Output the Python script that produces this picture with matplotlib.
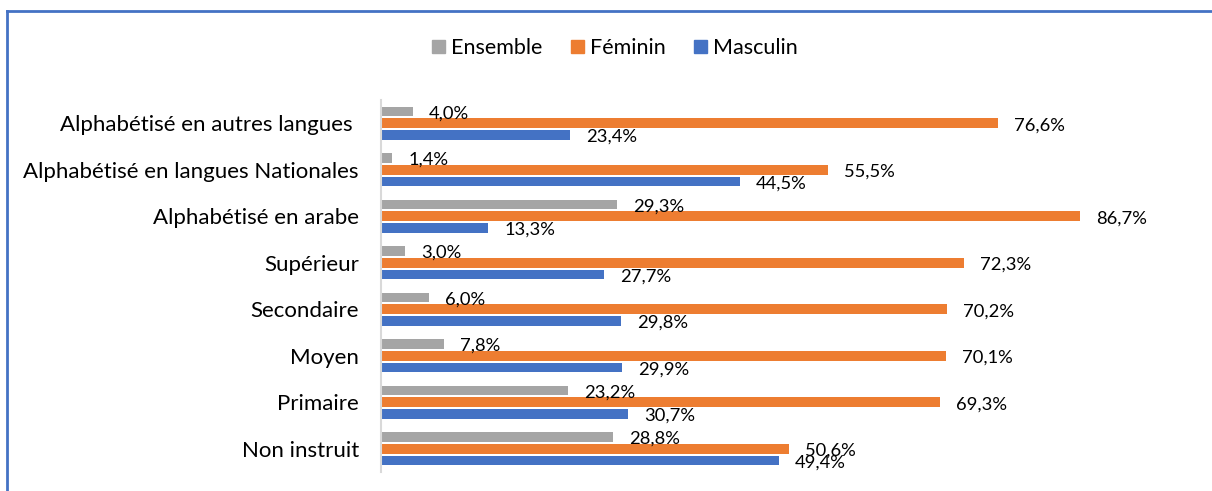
import matplotlib.pyplot as plt
from matplotlib.lines import Line2D
import numpy as np

categories = ["Non instruit", "Primaire", "Moyen", "Secondaire", "Supérieur",
              "Alphabétisé en arabe", "Alphabétisé en langues Nationales",
              "Alphabétisé en autres langues "]
ensemble = [28.8, 23.2, 7.8, 6.0, 3.0, 29.3, 1.4, 4.0]
feminin = [50.6, 69.3, 70.1, 70.2, 72.3, 86.7, 55.5, 76.6]
masculin = [49.4, 30.7, 29.9, 29.8, 27.7, 13.3, 44.5, 23.4]
series_names = ["Ensemble", "Féminin", "Masculin"]
colors = ["#A5A5A5", "#ED7D31", "#4472C4"]

plt.rcParams['font.family'] = ['Lato', 'DejaVu Sans']

W, H = 1212, 491
fig = plt.figure(figsize=(W / 100, H / 100), dpi=100)
ax = fig.add_axes([381 / W, 1 - 472 / H, (1187 - 381) / W, (472 - 100) / H])

y = np.arange(len(categories))
step = 0.255
h = 0.21
offsets = [step, 0, -step]
for vals, name, col, off in zip([ensemble, feminin, masculin], series_names, colors, offsets):
    bars = ax.barh(y + off, vals, height=h, color=col, label=name)
    for b, v in zip(bars, vals):
        ax.annotate(f"{v:.1f}%".replace(".", ","),
                    (b.get_width(), b.get_y() + b.get_height() / 2),
                    xytext=(16, -2), textcoords="offset pixels",
                    ha="left", va="center", fontsize=13.2, color="#000000")

ax.set_xlim(0, 100)
ax.set_ylim(-0.5, len(categories) - 0.5)
ax.set_yticks(y)
ax.set_yticklabels(categories, fontsize=16)
ax.tick_params(axis="y", length=0, pad=16)
ax.set_xticks([])
for s in ["top", "right", "bottom"]:
    ax.spines[s].set_visible(False)
ax.spines["left"].set_color("#D9D9D9")
ax.spines["left"].set_linewidth(1.5)

handles = [plt.Rectangle((0, 0), 1, 1, color=c) for c in colors]
fig.legend(handles, series_names, loc="center", bbox_to_anchor=(615 / W, 1 - 48 / H),
           ncol=3, frameon=False, fontsize=15.5, handlelength=0.6, handleheight=0.6,
           handletextpad=0.3, columnspacing=1.3)

fig.add_artist(Line2D([6.5 / W, 6.5 / W], [0, 1 - 10.5 / H], transform=fig.transFigure,
                      color="#4472C4", lw=2))
fig.add_artist(Line2D([6.5 / W, 1], [1 - 10.5 / H, 1 - 10.5 / H], transform=fig.transFigure,
                      color="#4472C4", lw=2))

fig.savefig("out.png", dpi=100)
